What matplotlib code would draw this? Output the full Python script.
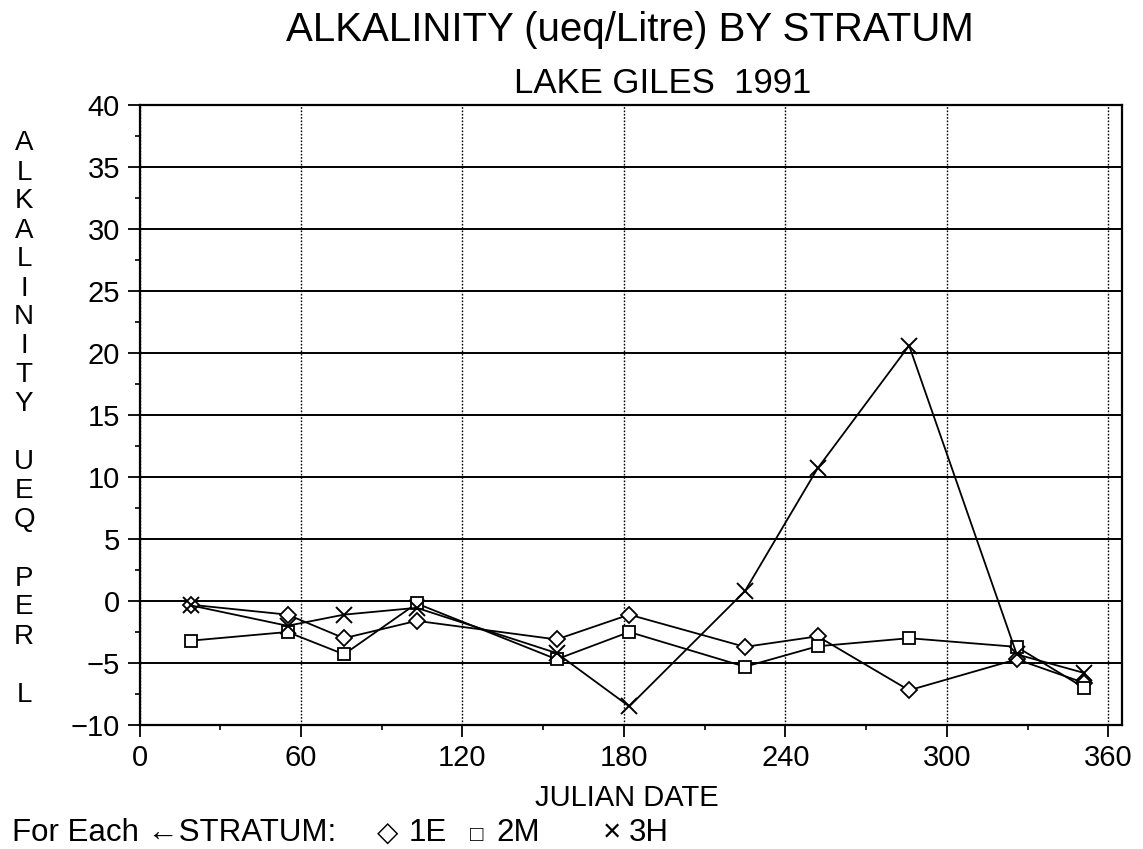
import numpy as np
import matplotlib
matplotlib.use('Agg')
import matplotlib.pyplot as plt
from matplotlib.ticker import MultipleLocator

plt.rcParams['font.family'] = ['Liberation Sans', 'DejaVu Sans']

# Julian dates of the sampling runs
days = [19, 55, 76, 103, 155, 182, 225, 252, 286, 326, 351]

# Alkalinity (ueq/L) per stratum
alk_1e = [-0.3, -1.1, -3.0, -1.6, -3.1, -1.1, -3.7, -2.85, -7.2, -4.7, -6.6]
alk_2m = [-3.2, -2.5, -4.3, -0.2, -4.7, -2.5, -5.3, -3.65, -3.0, -3.7, -7.0]
alk_3h = [-0.35, -2.0, -1.1, -0.55, -4.2, -8.5, 0.8, 10.7, 20.6, -4.3, -5.8]

W, H = 1143, 849
fig = plt.figure(figsize=(W / 100, H / 100), dpi=100)
ax = fig.add_axes([139.5 / W, 1 - 725 / H, (1121.7 - 139.5) / W, (725 - 105) / H])

# series
ax.plot(days, alk_1e, color='black', lw=1.3, marker='D', ms=8.5, mfc='white', mew=1.3, zorder=3)
ax.plot(days, alk_2m, color='black', lw=1.3, marker='s', ms=8.5, mfc='white', mew=1.3, zorder=3)
ax.plot(days, alk_3h, color='black', lw=1.3, marker='x', ms=11, mew=1.4, zorder=3)

# axes / grid
ax.set_xlim(0, 365)
ax.set_ylim(-10, 40)
ax.xaxis.set_major_locator(MultipleLocator(60))
ax.xaxis.set_minor_locator(MultipleLocator(30))
ax.yaxis.set_major_locator(MultipleLocator(5))
ax.yaxis.set_minor_locator(MultipleLocator(2.5))
ax.grid(axis='y', which='major', color='black', lw=1.4, ls='-')
ax.grid(axis='x', which='major', color='black', lw=1.0, ls=(0, (1.2, 1.2)))
ax.set_axisbelow(True)
for s in ax.spines.values():
    s.set_linewidth(1.6)
ax.tick_params(which='major', direction='out', length=8.5, width=1.3,
               labelsize=21, pad=5.5)
ax.tick_params(which='minor', direction='out', length=3.5, width=1.2)

# titles
fig.text(630 / W, 1 - 41 / H, 'ALKALINITY (ueq/Litre) BY STRATUM',
         ha='center', va='baseline', fontsize=29)
fig.text(663 / W, 1 - 93 / H, 'LAKE GILES  1991',
         ha='center', va='baseline', fontsize=25)

# stacked y label
ylab = 'ALKALINITY UEQ PER L'
fig.text(24 / W, 1 - 419 / H, '\n'.join(ylab), ha='center', va='center',
         multialignment='center', fontsize=20, linespacing=1.15)

# x label
fig.text(627 / W, 1 - 806 / H, 'JULIAN DATE', ha='center', va='baseline', fontsize=21)

# legend line
base = 1 - 841 / H
fig.text(12 / W, base, 'For Each \u2190STRATUM:', ha='left', va='baseline', fontsize=22.5)
fig.text(388 / W, base, '\u25c7', ha='center', va='baseline', fontsize=20)
fig.text(409 / W, base, '1E', ha='left', va='baseline', fontsize=22.5)
fig.text(477 / W, base, '\u25a1', ha='center', va='baseline', fontsize=16)
fig.text(496 / W, base, '2M', ha='left', va='baseline', fontsize=22.5)
fig.text(612 / W, base, '\u00d7', ha='center', va='baseline', fontsize=22.5)
fig.text(629 / W, base, '3H', ha='left', va='baseline', fontsize=22.5)

fig.savefig('out.png', dpi=100)
